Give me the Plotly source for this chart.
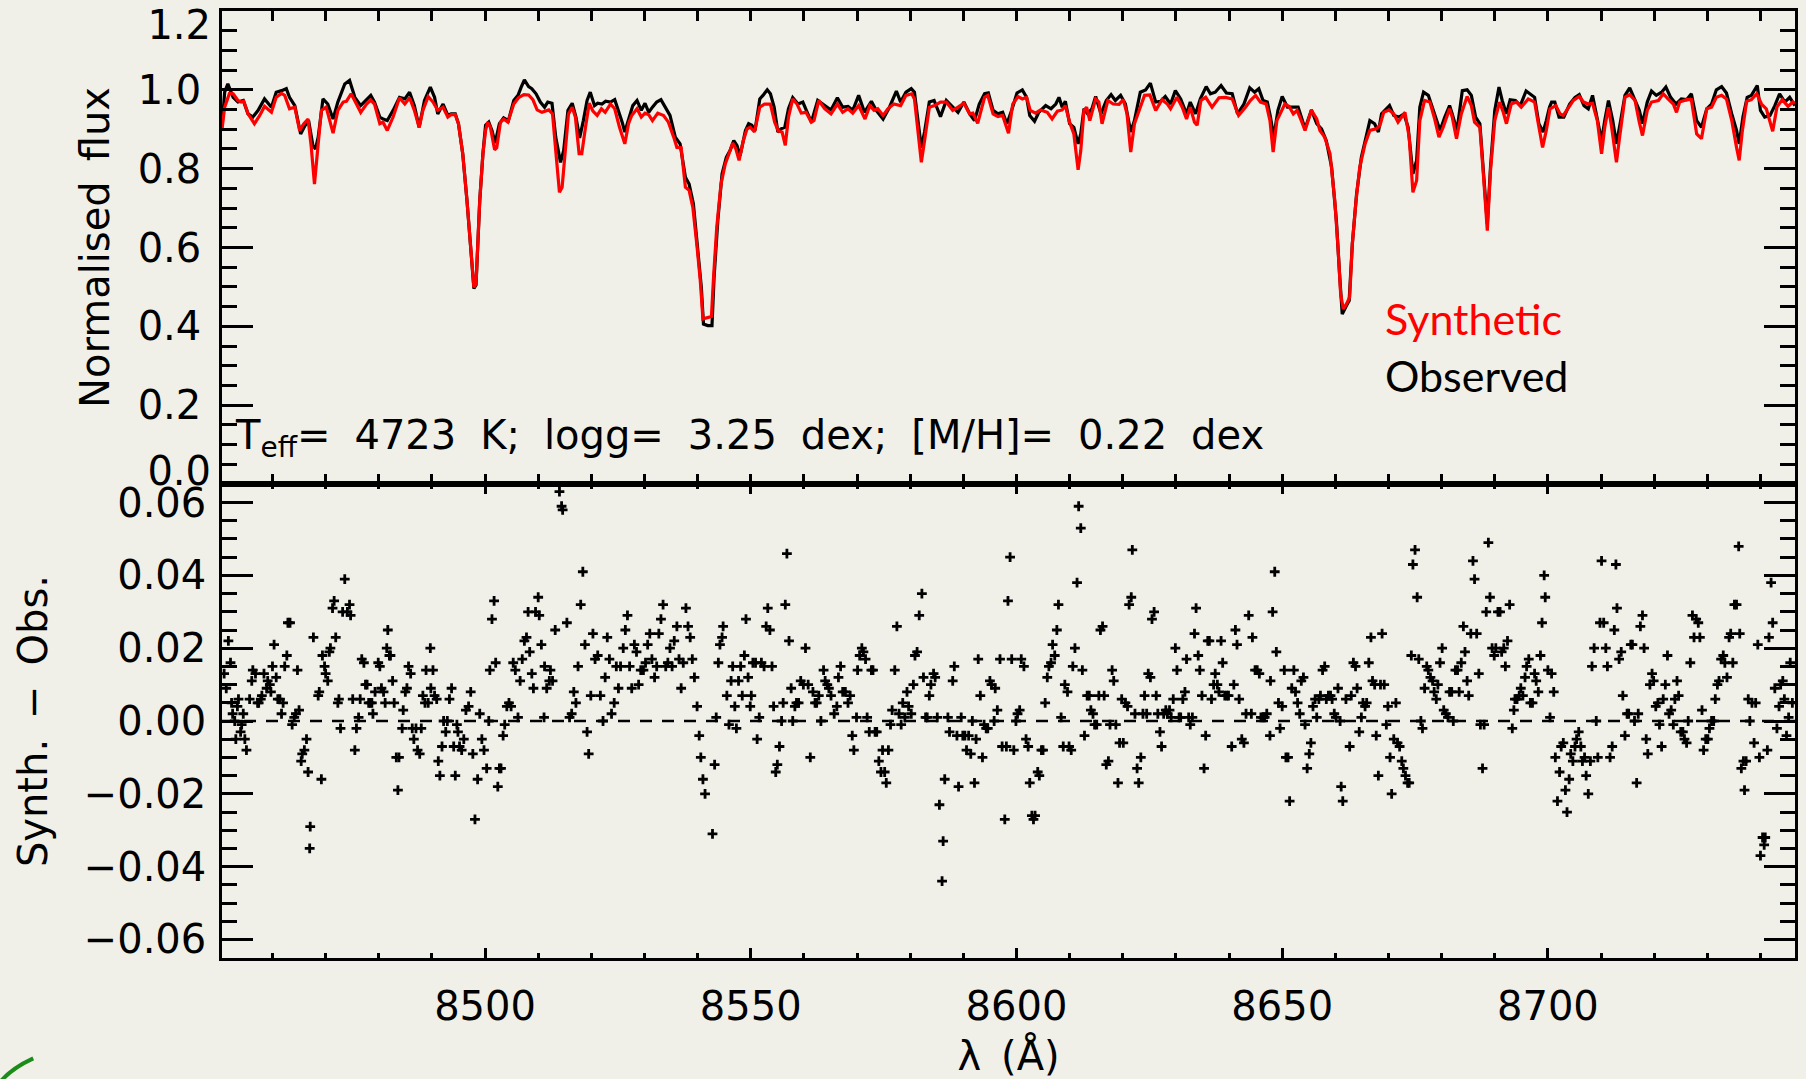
import plotly.graph_objects as go

# ---------------- data ----------------
syn_wl = [
    8450.5, 8451.0, 8451.9, 8452.6, 8453.5, 8454.1, 8454.6, 8455.4, 8456.6, 8457.6,
    8458.5, 8459.8, 8460.7, 8461.7, 8462.3, 8463.2, 8464.2, 8465.1, 8465.9, 8466.7,
    8467.3, 8467.9, 8468.6, 8469.2, 8470.1, 8471.4, 8472.3, 8473.3, 8473.9, 8474.8,
    8475.8, 8476.6, 8477.7, 8478.5, 8479.2, 8480.2, 8480.8, 8481.6, 8482.7, 8483.9,
    8484.9, 8485.8, 8486.7, 8487.6, 8488.3, 8489.3, 8490.2, 8491.1, 8492.1, 8493.0,
    8493.6, 8494.4, 8495.0, 8495.8, 8496.6, 8497.4, 8497.9, 8498.3, 8499.0, 8499.6,
    8500.1, 8500.5, 8501.0, 8501.8, 8502.2, 8502.9, 8503.5, 8504.3, 8505.4, 8506.3,
    8507.3, 8508.2, 8509.0, 8509.8, 8510.7, 8512.0, 8512.7, 8513.3, 8514.0, 8514.5,
    8515.1, 8515.7, 8516.4, 8517.0, 8517.7, 8518.2, 8518.9, 8519.6, 8520.3, 8521.1,
    8521.9, 8522.6, 8523.6, 8524.4, 8525.3, 8526.3, 8527.0, 8527.6, 8528.6, 8529.4,
    8530.1, 8530.8, 8531.5, 8532.5, 8533.6, 8534.5, 8535.5, 8536.1, 8536.9, 8537.7,
    8538.4, 8539.1, 8539.9, 8540.5, 8541.0, 8541.7, 8542.6, 8543.0, 8543.6, 8544.4,
    8545.2, 8545.9, 8546.6, 8547.2, 8547.8, 8548.6, 8549.3, 8549.9, 8550.7, 8551.7,
    8552.6, 8553.7, 8554.5, 8555.2, 8555.9, 8556.5, 8557.1, 8557.9, 8558.7, 8559.5,
    8560.4, 8561.4, 8561.9, 8562.8, 8563.9, 8565.1, 8566.3, 8567.3, 8568.3, 8569.2,
    8570.3, 8571.5, 8572.4, 8573.2, 8573.9, 8574.9, 8575.8, 8576.9, 8578.2, 8579.2,
    8580.3, 8580.8, 8581.4, 8582.1, 8582.7, 8583.6, 8584.6, 8585.7, 8586.8, 8588.0,
    8589.0, 8590.1, 8591.2, 8591.8, 8592.7, 8594.0, 8594.6, 8595.6, 8596.5, 8597.4,
    8598.5, 8599.3, 8600.3, 8601.1, 8601.9, 8602.6, 8603.6, 8604.5, 8605.8, 8606.7,
    8607.7, 8608.6, 8609.2, 8610.0, 8610.8, 8611.6, 8612.1, 8612.7, 8613.2, 8613.8,
    8614.9, 8615.5, 8616.1, 8617.2, 8618.2, 8619.3, 8620.1, 8620.8, 8621.5, 8622.2,
    8623.2, 8624.1, 8625.1, 8626.2, 8627.4, 8628.4, 8629.0, 8630.2, 8631.2, 8632.0,
    8632.7, 8633.5, 8634.0, 8634.7, 8635.6, 8636.8, 8638.1, 8639.3, 8640.6, 8641.8,
    8643.1, 8644.0, 8645.0, 8645.9, 8647.0, 8647.7, 8648.3, 8649.0, 8650.5, 8651.3,
    8652.1, 8652.8, 8653.6, 8654.3, 8655.5, 8656.5, 8657.1, 8658.0, 8659.0, 8659.9,
    8660.5, 8661.0, 8661.5, 8662.1, 8662.7, 8663.2, 8663.9, 8664.6, 8665.6, 8666.5,
    8667.7, 8668.4, 8669.1, 8670.1, 8671.0, 8671.8, 8673.1, 8673.9, 8674.6, 8675.3,
    8675.9, 8676.8, 8677.8, 8678.7, 8679.5, 8680.3, 8681.5, 8682.0, 8682.8, 8683.7,
    8684.8, 8685.6, 8686.2, 8687.2, 8687.9, 8688.6, 8689.2, 8690.0, 8690.9, 8691.6,
    8692.2, 8693.1, 8694.1, 8695.0, 8696.3, 8697.5, 8698.2, 8699.0, 8699.7, 8700.4,
    8701.5, 8702.3, 8702.9, 8703.8, 8704.8, 8705.9, 8706.7, 8707.6, 8708.4, 8709.3,
    8710.1, 8710.7, 8711.4, 8712.0, 8712.9, 8713.5, 8714.5, 8715.4, 8716.4, 8717.2,
    8717.8, 8718.7, 8719.5, 8720.8, 8721.7, 8722.6, 8723.6, 8724.2, 8724.8, 8726.1,
    8727.0, 8728.0, 8728.9, 8729.9, 8730.8, 8731.7, 8732.7, 8733.6, 8734.6, 8735.5,
    8736.0, 8736.6, 8737.4, 8738.3, 8739.3, 8740.2, 8741.1, 8742.3, 8743.1, 8744.1,
    8745.2, 8746.1, 8746.5,
]
syn_flux = [
    0.900, 0.956, 0.991, 0.990, 0.973, 0.969, 0.971, 0.939, 0.914, 0.935,
    0.958, 0.943, 0.981, 0.991, 0.986, 0.952, 0.956, 0.897, 0.914, 0.926,
    0.854, 0.761, 0.863, 0.948, 0.956, 0.890, 0.948, 0.969, 0.971, 0.990,
    0.964, 0.943, 0.964, 0.974, 0.964, 0.914, 0.918, 0.897, 0.931, 0.980,
    0.964, 0.980, 0.948, 0.905, 0.948, 0.983, 0.969, 0.948, 0.956, 0.931,
    0.937, 0.937, 0.914, 0.838, 0.719, 0.567, 0.499, 0.508, 0.719, 0.838,
    0.897, 0.918, 0.905, 0.848, 0.853, 0.918, 0.926, 0.918, 0.964, 0.980,
    0.988, 0.987, 0.975, 0.949, 0.943, 0.949, 0.939, 0.846, 0.740, 0.753,
    0.838, 0.939, 0.956, 0.931, 0.838, 0.838, 0.905, 0.966, 0.946, 0.935,
    0.952, 0.943, 0.964, 0.952, 0.905, 0.863, 0.914, 0.935, 0.952, 0.931,
    0.941, 0.937, 0.922, 0.941, 0.935, 0.918, 0.880, 0.854, 0.853, 0.753,
    0.745, 0.702, 0.601, 0.516, 0.419, 0.421, 0.425, 0.525, 0.651, 0.761,
    0.812, 0.838, 0.865, 0.850, 0.821, 0.871, 0.901, 0.905, 0.893, 0.956,
    0.964, 0.964, 0.918, 0.895, 0.893, 0.859, 0.931, 0.977, 0.964, 0.941,
    0.943, 0.918, 0.922, 0.973, 0.952, 0.939, 0.964, 0.943, 0.952, 0.941,
    0.960, 0.926, 0.960, 0.948, 0.952, 0.935, 0.952, 0.964, 0.960, 0.986,
    0.990, 0.977, 0.905, 0.816, 0.871, 0.956, 0.960, 0.969, 0.969, 0.948,
    0.956, 0.966, 0.939, 0.941, 0.915, 0.981, 0.986, 0.939, 0.932, 0.935,
    0.890, 0.964, 0.983, 0.977, 0.981, 0.948, 0.941, 0.949, 0.943, 0.926,
    0.946, 0.949, 0.960, 0.918, 0.888, 0.797, 0.846, 0.948, 0.956, 0.922,
    0.977, 0.969, 0.914, 0.973, 0.964, 0.963, 0.975, 0.939, 0.842, 0.914,
    0.952, 0.986, 0.987, 0.948, 0.975, 0.964, 0.952, 0.981, 0.956, 0.926,
    0.956, 0.918, 0.910, 0.973, 0.981, 0.956, 0.980, 0.981, 0.977, 0.935,
    0.956, 0.973, 0.986, 0.969, 0.964, 0.922, 0.842, 0.922, 0.964, 0.958,
    0.939, 0.948, 0.922, 0.897, 0.948, 0.926, 0.897, 0.880, 0.838, 0.719,
    0.601, 0.482, 0.444, 0.457, 0.474, 0.609, 0.719, 0.804, 0.863, 0.897,
    0.901, 0.910, 0.943, 0.949, 0.939, 0.918, 0.943, 0.880, 0.740, 0.770,
    0.922, 0.973, 0.969, 0.926, 0.880, 0.905, 0.952, 0.931, 0.876, 0.939,
    0.983, 0.960, 0.918, 0.905, 0.778, 0.643, 0.795, 0.922, 0.969, 0.943,
    0.914, 0.964, 0.969, 0.956, 0.977, 0.969, 0.914, 0.854, 0.897, 0.952,
    0.960, 0.939, 0.935, 0.952, 0.973, 0.983, 0.969, 0.964, 0.966, 0.922,
    0.838, 0.905, 0.956, 0.905, 0.816, 0.880, 0.981, 0.988, 0.973, 0.918,
    0.884, 0.948, 0.969, 0.973, 0.990, 0.977, 0.964, 0.943, 0.969, 0.975,
    0.975, 0.888, 0.876, 0.952, 0.956, 0.981, 0.986, 0.977, 0.922, 0.854,
    0.821, 0.897, 0.971, 0.975, 0.990, 0.964, 0.952, 0.895, 0.956, 0.975,
    0.958, 0.969, 0.966,
]

obs_wl = [
    8450.5, 8451.0, 8451.6, 8452.6, 8453.5, 8454.5, 8455.4, 8456.3, 8457.3, 8458.5,
    8459.8, 8460.7, 8461.7, 8462.6, 8463.2, 8464.2, 8465.3, 8466.1, 8466.8, 8467.6,
    8468.1, 8468.6, 8469.5, 8470.4, 8471.4, 8472.3, 8473.6, 8474.5, 8475.5, 8476.6,
    8477.7, 8478.5, 8479.2, 8480.2, 8480.8, 8481.6, 8482.7, 8483.9, 8484.9, 8485.8,
    8486.7, 8487.6, 8488.6, 8489.7, 8490.5, 8491.1, 8492.1, 8493.0, 8493.6, 8494.4,
    8495.0, 8495.8, 8496.6, 8497.4, 8497.9, 8498.3, 8499.0, 8499.6, 8500.1, 8500.7,
    8501.3, 8501.9, 8502.7, 8503.5, 8504.4, 8505.4, 8506.2, 8506.8, 8507.4, 8508.2,
    8508.8, 8509.6, 8510.4, 8511.2, 8511.8, 8512.6, 8513.3, 8514.2, 8514.8, 8515.6,
    8516.4, 8517.1, 8517.8, 8518.5, 8519.2, 8519.8, 8520.6, 8521.2, 8522.0, 8522.7,
    8523.6, 8524.4, 8525.1, 8525.8, 8526.3, 8527.0, 8527.8, 8528.6, 8529.4, 8530.1,
    8530.8, 8531.5, 8532.3, 8533.1, 8533.9, 8534.8, 8535.8, 8536.7, 8537.7, 8538.4,
    8539.2, 8540.0, 8540.7, 8541.1, 8541.9, 8542.7, 8543.1, 8543.8, 8544.6, 8545.4,
    8546.1, 8546.8, 8547.4, 8548.0, 8549.0, 8549.6, 8550.2, 8550.8, 8551.7, 8552.3,
    8553.1, 8553.7, 8554.4, 8555.1, 8555.7, 8556.4, 8557.1, 8557.9, 8558.9, 8559.8,
    8560.4, 8561.4, 8562.6, 8563.9, 8565.1, 8566.3, 8567.3, 8568.3, 8569.2, 8570.3,
    8571.4, 8572.7, 8573.6, 8574.9, 8576.1, 8577.4, 8578.2, 8579.2, 8580.2, 8580.8,
    8581.4, 8582.1, 8582.7, 8583.6, 8584.5, 8585.7, 8586.8, 8587.8, 8589.0, 8590.1,
    8591.2, 8592.1, 8593.0, 8594.0, 8594.7, 8595.6, 8596.5, 8597.4, 8598.2, 8599.1,
    8600.1, 8601.1, 8601.9, 8602.5, 8603.4, 8604.2, 8605.5, 8606.5, 8607.4, 8608.0,
    8608.6, 8609.2, 8610.0, 8610.8, 8611.6, 8612.1, 8612.7, 8613.4, 8614.2, 8614.9,
    8615.9, 8616.9, 8617.8, 8618.6, 8619.6, 8620.5, 8621.5, 8622.2, 8623.3, 8624.3,
    8625.2, 8626.2, 8627.1, 8628.0, 8629.0, 8629.9, 8630.9, 8632.0, 8632.7, 8633.7,
    8634.6, 8635.7, 8636.5, 8637.4, 8638.5, 8639.5, 8640.6, 8641.6, 8642.8, 8643.9,
    8644.8, 8645.6, 8646.4, 8647.2, 8647.8, 8648.4, 8649.2, 8650.0, 8651.0, 8652.0,
    8653.0, 8653.6, 8654.3, 8655.5, 8656.5, 8657.4, 8658.3, 8659.3, 8660.2, 8660.8,
    8661.3, 8662.1, 8662.6, 8663.2, 8664.0, 8664.9, 8665.7, 8666.5, 8667.4, 8668.1,
    8668.7, 8669.6, 8670.2, 8671.0, 8672.0, 8672.9, 8673.7, 8674.6, 8675.3, 8675.9,
    8676.6, 8677.5, 8678.4, 8679.7, 8680.6, 8681.5, 8682.0, 8682.9, 8683.9, 8684.8,
    8685.6, 8686.4, 8687.2, 8687.9, 8688.6, 8689.2, 8690.0, 8690.8, 8691.4, 8692.2,
    8692.9, 8693.9, 8694.8, 8695.9, 8696.7, 8697.5, 8698.3, 8699.1, 8699.7, 8700.3,
    8700.7, 8701.3, 8702.1, 8703.0, 8704.1, 8705.1, 8705.9, 8706.8, 8707.6, 8708.4,
    8709.3, 8710.1, 8710.7, 8711.4, 8712.2, 8712.9, 8713.7, 8714.5, 8715.4, 8716.2,
    8717.2, 8717.8, 8718.7, 8719.5, 8720.4, 8721.4, 8722.2, 8723.1, 8724.1, 8725.1,
    8726.1, 8727.0, 8728.0, 8728.9, 8729.9, 8730.8, 8731.7, 8732.7, 8733.6, 8734.6,
    8735.5, 8736.0, 8736.7, 8737.5, 8738.3, 8739.4, 8740.0, 8740.8, 8741.8, 8742.7,
    8743.6, 8744.6, 8745.5, 8746.5,
]
obs_flux = [
    0.905, 0.994, 1.015, 0.981, 0.969, 0.973, 0.939, 0.931, 0.948, 0.977,
    0.956, 0.994, 0.998, 1.003, 0.981, 0.960, 0.888, 0.909, 0.922, 0.859,
    0.850, 0.880, 0.977, 0.964, 0.926, 0.969, 1.015, 1.024, 0.981, 0.960,
    0.975, 0.986, 0.969, 0.931, 0.926, 0.922, 0.948, 0.981, 0.977, 0.994,
    0.960, 0.905, 0.973, 1.007, 0.981, 0.939, 0.964, 0.935, 0.939, 0.939,
    0.914, 0.838, 0.719, 0.567, 0.496, 0.505, 0.719, 0.838, 0.910, 0.918,
    0.897, 0.865, 0.914, 0.929, 0.922, 0.973, 0.986, 1.007, 1.025, 1.008,
    1.003, 0.990, 0.969, 0.956, 0.969, 0.966, 0.880, 0.816, 0.846, 0.948,
    0.966, 0.931, 0.878, 0.922, 0.973, 0.994, 0.960, 0.966, 0.964, 0.971,
    0.969, 0.975, 0.948, 0.918, 0.893, 0.922, 0.960, 0.973, 0.948, 0.966,
    0.943, 0.956, 0.969, 0.975, 0.956, 0.935, 0.880, 0.863, 0.778, 0.761,
    0.711, 0.601, 0.499, 0.406, 0.402, 0.402, 0.525, 0.668, 0.787, 0.829,
    0.846, 0.871, 0.859, 0.833, 0.897, 0.914, 0.910, 0.897, 0.977, 0.986,
    1.000, 0.990, 0.956, 0.893, 0.901, 0.905, 0.952, 0.980, 0.964, 0.969,
    0.948, 0.918, 0.973, 0.960, 0.949, 0.980, 0.956, 0.958, 0.948, 0.986,
    0.943, 0.971, 0.948, 0.926, 0.956, 0.997, 0.969, 0.994, 1.003, 0.994,
    0.922, 0.853, 0.893, 0.969, 0.973, 0.932, 0.973, 0.960, 0.943, 0.969,
    0.939, 0.922, 0.964, 0.990, 0.992, 0.948, 0.939, 0.943, 0.914, 0.948,
    0.992, 1.000, 0.981, 0.935, 0.920, 0.943, 0.960, 0.952, 0.964, 0.981,
    0.956, 0.971, 0.914, 0.905, 0.863, 0.888, 0.952, 0.939, 0.952, 0.983,
    0.939, 0.973, 0.988, 0.973, 0.986, 0.964, 0.893, 0.922, 0.994, 1.000,
    1.017, 0.969, 0.971, 0.983, 0.964, 0.998, 0.977, 0.939, 0.969, 0.939,
    0.977, 1.008, 0.990, 0.994, 1.011, 0.992, 0.990, 0.939, 0.964, 1.005,
    0.994, 1.003, 0.973, 0.969, 0.931, 0.880, 0.948, 0.983, 0.956, 0.956,
    0.956, 0.931, 0.901, 0.949, 0.914, 0.901, 0.871, 0.804, 0.668, 0.533,
    0.431, 0.453, 0.465, 0.609, 0.736, 0.829, 0.880, 0.922, 0.914, 0.893,
    0.939, 0.952, 0.960, 0.935, 0.931, 0.939, 0.905, 0.787, 0.821, 0.956,
    0.994, 0.986, 0.948, 0.897, 0.931, 0.960, 0.939, 0.897, 0.998, 1.000,
    0.986, 0.931, 0.914, 0.795, 0.660, 0.804, 0.948, 1.007, 0.973, 0.939,
    0.975, 0.973, 0.960, 0.997, 0.990, 0.981, 0.914, 0.893, 0.922, 0.956,
    0.969, 0.969, 0.931, 0.931, 0.964, 0.981, 0.988, 0.960, 0.952, 0.986,
    0.926, 0.871, 0.922, 0.973, 0.922, 0.863, 0.922, 0.986, 1.005, 0.981,
    0.948, 0.914, 0.969, 0.997, 0.986, 0.994, 1.007, 0.981, 0.964, 0.977,
    0.975, 0.990, 0.922, 0.905, 0.952, 0.964, 1.000, 1.008, 0.992, 0.939,
    0.897, 0.863, 0.931, 0.981, 0.986, 1.011, 0.948, 0.931, 0.935, 0.960,
    0.990, 0.969, 0.981, 0.960,
]

res_wl = [
    8450.9, 8451.3, 8451.7, 8452.1, 8452.3, 8452.5, 8452.9, 8453.1, 8453.4, 8453.6,
    8454.0, 8454.2, 8454.5, 8454.8, 8455.1, 8455.7, 8456.1, 8456.3, 8456.8, 8457.2,
    8457.4, 8457.8, 8458.0, 8458.4, 8458.9, 8459.1, 8459.5, 8459.7, 8460.0, 8460.3,
    8460.7, 8461.0, 8461.4, 8461.7, 8462.0, 8462.3, 8462.7, 8462.9, 8463.3, 8463.7,
    8464.1, 8464.4, 8464.7, 8465.0, 8465.4, 8465.6, 8466.0, 8466.4, 8466.7, 8467.1,
    8467.0, 8467.7, 8468.6, 8468.8, 8469.2, 8469.4, 8469.8, 8470.0, 8470.4, 8470.7,
    8470.9, 8471.3, 8471.6, 8471.9, 8472.3, 8472.5, 8472.8, 8473.2, 8473.6, 8474.1,
    8474.5, 8474.7, 8475.1, 8475.5, 8475.8, 8476.2, 8476.5, 8476.8, 8477.2, 8477.5,
    8477.8, 8478.1, 8478.4, 8478.7, 8478.9, 8479.3, 8479.9, 8480.2, 8480.5, 8480.9,
    8481.2, 8481.5, 8481.7, 8482.0, 8482.2, 8482.6, 8482.9, 8483.3, 8483.6, 8483.8,
    8484.4, 8484.6, 8485.0, 8485.3, 8485.6, 8486.0, 8486.3, 8486.6, 8487.0, 8487.3,
    8487.7, 8488.0, 8488.3, 8488.7, 8488.9, 8489.3, 8489.7, 8489.8, 8490.2, 8490.5,
    8490.9, 8491.2, 8491.5, 8491.9, 8492.2, 8492.6, 8492.9, 8493.3, 8493.7, 8494.1,
    8494.4, 8494.7, 8494.9, 8495.2, 8495.6, 8496.0, 8496.4, 8496.9, 8497.3, 8497.7,
    8498.1, 8498.6, 8499.0, 8499.4, 8499.8, 8500.3, 8500.7, 8500.9, 8501.3, 8501.7,
    8502.0, 8502.4, 8502.7, 8503.0, 8503.4, 8503.7, 8504.1, 8504.5, 8504.9, 8505.3,
    8505.7, 8506.2, 8506.6, 8507.0, 8507.4, 8507.8, 8508.1, 8508.4, 8508.8, 8509.1,
    8509.5, 8510.0, 8510.2, 8510.6, 8511.1, 8511.2, 8511.6, 8512.1, 8512.3, 8512.7,
    8513.2, 8514.0, 8514.4, 8514.6, 8515.4, 8515.9, 8516.3, 8516.7, 8517.1, 8517.5,
    8518.0, 8518.4, 8518.8, 8519.2, 8519.5, 8519.9, 8520.3, 8520.7, 8521.2, 8521.7,
    8522.2, 8522.6, 8523.0, 8523.4, 8523.8, 8524.3, 8524.7, 8525.1, 8525.5, 8526.0,
    8526.4, 8526.8, 8527.2, 8527.6, 8528.1, 8528.5, 8528.9, 8529.3, 8529.8, 8530.2,
    8530.6, 8531.0, 8531.4, 8531.9, 8532.3, 8532.7, 8533.1, 8533.5, 8534.0, 8534.4,
    8534.8, 8535.2, 8535.6, 8536.1, 8536.5, 8536.9, 8537.3, 8537.8, 8538.2, 8538.6,
    8539.0, 8539.4, 8539.9, 8540.3, 8540.6, 8541.0, 8541.4, 8542.8, 8543.2, 8543.5,
    8543.9, 8544.2, 8544.6, 8544.8, 8545.5, 8545.9, 8546.3, 8546.6, 8547.0, 8547.3,
    8547.7, 8548.1, 8548.4, 8548.8, 8549.1, 8549.5, 8549.9, 8550.1, 8550.4, 8550.9,
    8551.2, 8551.6, 8552.0, 8552.5, 8552.9, 8553.2, 8553.6, 8554.0, 8554.3, 8554.7,
    8555.0, 8555.4, 8555.8, 8556.1, 8556.5, 8556.8, 8557.2, 8557.6, 8557.9, 8558.3,
    8558.6, 8559.0, 8559.4, 8559.9, 8560.3, 8560.8, 8561.2, 8561.7, 8562.1, 8562.4,
    8562.8, 8563.2, 8563.7, 8564.0, 8564.4, 8564.7, 8565.1, 8565.7, 8566.2, 8566.5,
    8566.9, 8567.3, 8567.8, 8568.3, 8568.7, 8569.1, 8569.4, 8569.9, 8570.1, 8570.5,
    8570.9, 8571.2, 8571.6, 8571.9, 8572.3, 8572.7, 8573.0, 8573.4, 8573.7, 8574.1,
    8574.5, 8574.8, 8575.2, 8575.5, 8575.9, 8576.3, 8576.6, 8577.1, 8577.5, 8577.9,
    8578.3, 8578.6, 8579.0, 8579.4, 8579.7, 8580.2, 8580.6, 8580.9, 8581.3, 8581.7,
    8582.2, 8582.5, 8582.9, 8583.2, 8583.6, 8583.9, 8584.4, 8584.7, 8585.1, 8585.5,
    8586.0, 8586.2, 8586.5, 8587.1, 8587.4, 8588.0, 8588.3, 8588.8, 8589.1, 8589.6,
    8589.9, 8590.3, 8590.6, 8591.0, 8591.4, 8591.7, 8592.1, 8592.4, 8592.8, 8593.2,
    8593.6, 8593.9, 8594.3, 8594.6, 8595.0, 8595.3, 8595.8, 8596.0, 8596.4, 8596.9,
    8597.3, 8597.8, 8598.1, 8598.4, 8598.8, 8599.1, 8599.5, 8599.9, 8600.2, 8600.6,
    8600.9, 8601.4, 8601.8, 8602.2, 8602.5, 8602.9, 8603.2, 8603.5, 8604.0, 8604.3,
    8604.7, 8605.0, 8605.4, 8605.8, 8606.1, 8606.5, 8606.8, 8607.2, 8607.6, 8607.9,
    8608.4, 8608.8, 8609.1, 8609.6, 8609.9, 8610.3, 8610.6, 8611.0, 8611.4, 8611.7,
    8612.1, 8612.4, 8612.8, 8613.3, 8613.7, 8614.0, 8614.4, 8614.7, 8615.1, 8615.5,
    8615.8, 8616.2, 8616.5, 8616.9, 8617.3, 8617.6, 8618.0, 8618.3, 8618.7, 8619.1,
    8619.4, 8619.8, 8620.1, 8620.5, 8620.9, 8621.2, 8621.6, 8621.8, 8622.3, 8622.7,
    8623.0, 8623.4, 8623.8, 8624.1, 8624.5, 8624.8, 8625.2, 8625.5, 8625.9, 8626.3,
    8626.6, 8627.0, 8627.3, 8627.7, 8628.1, 8628.4, 8628.8, 8629.1, 8629.5, 8629.9,
    8630.2, 8630.6, 8630.9, 8631.3, 8631.7, 8632.0, 8632.4, 8632.7, 8633.1, 8633.5,
    8633.8, 8634.2, 8634.5, 8634.9, 8635.3, 8635.6, 8636.0, 8636.3, 8636.7, 8637.1,
    8637.4, 8637.8, 8638.1, 8638.5, 8638.8, 8639.2, 8639.6, 8639.9, 8640.5, 8640.9,
    8641.2, 8641.5, 8641.9, 8642.4, 8642.8, 8643.2, 8643.7, 8644.2, 8644.4, 8644.9,
    8645.3, 8645.7, 8646.0, 8646.4, 8646.7, 8647.1, 8647.7, 8647.8, 8648.2, 8648.6,
    8648.9, 8649.3, 8649.6, 8650.0, 8650.4, 8650.7, 8651.1, 8651.4, 8651.8, 8652.2,
    8652.5, 8652.9, 8653.3, 8653.6, 8654.0, 8654.3, 8654.7, 8655.1, 8655.4, 8655.8,
    8656.2, 8656.5, 8656.9, 8657.2, 8657.6, 8658.0, 8658.3, 8658.7, 8659.1, 8659.4,
    8659.8, 8660.1, 8660.5, 8660.9, 8661.1, 8661.4, 8662.0, 8662.7, 8663.0, 8663.4,
    8663.8, 8664.1, 8664.5, 8664.9, 8665.2, 8665.6, 8665.9, 8666.3, 8666.7, 8667.0,
    8667.4, 8667.7, 8668.1, 8668.5, 8668.8, 8669.2, 8669.6, 8669.9, 8670.3, 8670.6,
    8671.0, 8671.4, 8671.7, 8672.1, 8672.5, 8672.8, 8673.2, 8673.6, 8673.9, 8674.3,
    8674.6, 8675.0, 8675.4, 8675.7, 8676.1, 8676.4, 8676.8, 8677.2, 8677.5, 8677.9,
    8678.3, 8678.6, 8679.0, 8679.3, 8679.7, 8680.1, 8680.4, 8680.8, 8681.2, 8681.5,
    8681.9, 8682.2, 8682.6, 8683.0, 8683.3, 8683.7, 8684.1, 8684.4, 8684.8, 8685.1,
    8685.5, 8685.9, 8686.2, 8686.6, 8687.0, 8687.3, 8687.7, 8688.0, 8688.4, 8688.8,
    8689.1, 8689.5, 8689.9, 8690.2, 8690.6, 8691.0, 8691.3, 8691.7, 8692.0, 8692.4,
    8692.8, 8693.3, 8693.6, 8693.8, 8694.2, 8694.6, 8694.9, 8695.3, 8695.7, 8696.0,
    8696.4, 8696.7, 8697.1, 8697.5, 8697.8, 8698.2, 8698.6, 8698.9, 8699.3, 8699.5,
    8700.0, 8700.4, 8700.7, 8701.1, 8701.4, 8701.8, 8702.2, 8702.5, 8702.9, 8703.3,
    8703.6, 8704.0, 8704.3, 8704.7, 8705.1, 8705.4, 8705.8, 8706.2, 8706.5, 8706.9,
    8707.2, 8707.6, 8708.0, 8708.3, 8708.7, 8709.1, 8709.4, 8709.8, 8710.1, 8710.5,
    8710.9, 8711.2, 8711.7, 8712.1, 8712.5, 8712.8, 8713.0, 8713.4, 8713.8, 8714.1,
    8714.5, 8714.9, 8715.2, 8715.6, 8715.9, 8716.3, 8716.7, 8717.0, 8717.4, 8717.8,
    8718.1, 8718.5, 8718.8, 8719.2, 8719.6, 8719.9, 8720.3, 8720.7, 8721.0, 8721.4,
    8721.7, 8722.1, 8722.5, 8722.8, 8723.2, 8723.6, 8723.9, 8724.3, 8724.6, 8725.0,
    8725.4, 8725.7, 8726.1, 8726.4, 8726.8, 8727.2, 8727.5, 8727.9, 8728.3, 8728.6,
    8729.0, 8729.3, 8729.7, 8730.1, 8730.4, 8730.8, 8731.2, 8731.5, 8731.9, 8732.2,
    8732.6, 8733.0, 8733.3, 8733.7, 8734.1, 8734.4, 8734.8, 8735.1, 8735.5, 8735.9,
    8736.1, 8736.4, 8736.8, 8737.0, 8737.3, 8737.7, 8738.0, 8738.4, 8738.8, 8739.1,
    8739.5, 8739.8, 8740.0, 8740.4, 8740.7, 8740.9, 8741.3, 8741.6, 8742.0, 8742.3,
    8742.7, 8743.1, 8743.5, 8743.8, 8744.2, 8744.5, 8744.9, 8745.3, 8745.6, 8746.0,
]
res_val = [
    0.013, 0.009, 0.022, 0.016, 0.005, 0.002, 0.000, -0.005, 0.004, 0.006,
    -0.003, -0.001, 0.002, -0.005, -0.008, 0.006, 0.011, 0.014, 0.013, 0.005,
    0.005, 0.006, 0.007, 0.013, 0.009, 0.011, 0.010, 0.008, 0.015, 0.021,
    0.012, 0.006, 0.006, 0.002, 0.005, 0.015, 0.018, 0.027, 0.027, -0.001,
    0.001, 0.002, 0.014, 0.003, -0.011, -0.009, -0.008, -0.005, -0.014, -0.029,
    -0.035, 0.023, 0.007, 0.008, -0.016, 0.018, 0.015, 0.013, 0.011, 0.019,
    0.020, 0.031, 0.033, 0.023, 0.005, 0.006, -0.002, 0.030, 0.039, 0.030,
    0.032, 0.029, 0.006, -0.008, -0.002, 0.001, 0.006, 0.017, 0.016, 0.010,
    0.010, 0.005, 0.005, 0.005, 0.002, 0.008, 0.016, 0.015, 0.009, 0.008,
    0.005, 0.020, 0.025, 0.018, 0.018, 0.011, 0.005, -0.010, -0.019, -0.010,
    -0.002, 0.003, 0.008, 0.009, 0.015, 0.013, -0.002, -0.005, -0.002, -0.008,
    -0.009, -0.002, 0.007, 0.005, 0.014, 0.005, 0.020, 0.009, 0.014, 0.007,
    0.006, -0.011, -0.015, -0.007, 0.000, -0.003, 0.000, 0.006, 0.009, -0.007,
    -0.015, -0.001, -0.003, -0.007, -0.008, -0.005, 0.003, 0.004, 0.008, -0.009,
    -0.027, -0.016, 0.002, -0.005, -0.008, -0.013, 0.000, 0.014, 0.028, 0.033,
    0.016, -0.018, -0.013, -0.013, -0.004, -0.001, 0.004, 0.005, 0.004, 0.016,
    0.014, 0.001, 0.011, 0.017, 0.022, 0.023, 0.030, 0.019, 0.013, 0.009,
    0.030, 0.034, 0.029, 0.021, 0.001, 0.015, 0.009, 0.011, 0.014, 0.011,
    0.025, 0.063, 0.059, 0.058, 0.027, 0.001, 0.002, 0.008, 0.005, 0.015,
    0.032, 0.041, 0.021, -0.003, -0.009, 0.007, 0.024, 0.017, 0.018, 0.007,
    0.000, 0.012, 0.023, 0.017, 0.002, 0.005, 0.015, 0.009, 0.015, 0.020,
    0.025, 0.029, 0.015, 0.009, 0.021, 0.019, 0.010, 0.014, 0.014, 0.016,
    0.021, 0.024, 0.017, 0.012, 0.015, 0.024, 0.028, 0.032, 0.015, 0.016,
    0.020, 0.015, 0.022, 0.026, 0.017, 0.009, 0.016, 0.031, 0.026, 0.023,
    0.017, 0.012, 0.004, -0.004, -0.010, -0.016, -0.020, -0.031, -0.012, 0.001,
    0.016, 0.021, 0.023, 0.026, 0.007, -0.001, 0.011, 0.015, 0.004, -0.002,
    0.011, 0.015, 0.007, 0.018, 0.028, 0.012, 0.004, 0.007, 0.016, 0.016,
    -0.005, 0.001, 0.016, 0.015, 0.026, 0.031, 0.025, 0.015, 0.004, -0.014,
    -0.012, -0.007, 0.000, 0.005, 0.032, 0.046, 0.022, 0.009, 0.000, 0.004,
    0.005, 0.005, 0.011, 0.010, 0.020, 0.010, -0.010, 0.008, 0.005, 0.005,
    0.007, 0.000, 0.014, 0.011, 0.010, 0.009, 0.007, 0.002, 0.004, 0.012,
    0.015, 0.008, 0.008, 0.005, 0.007, -0.004, -0.008, 0.001, 0.014, 0.018,
    0.020, 0.019, 0.017, 0.001, -0.003, 0.014, 0.014, -0.003, -0.003, -0.011,
    -0.014, -0.008, -0.014, -0.017, -0.008, -0.001, 0.003, 0.014, 0.026, 0.002,
    -0.001, 0.005, 0.001, 0.008, 0.004, 0.002, 0.010, 0.018, 0.019, 0.029,
    0.035, 0.012, 0.001, 0.001, 0.007, 0.010, 0.013, 0.012, 0.001, -0.023,
    -0.044, -0.033, -0.016, 0.001, -0.003, 0.011, 0.015, -0.004, -0.018, 0.001,
    -0.004, -0.004, -0.008, -0.004, -0.009, 0.000, -0.017, -0.005, 0.017, 0.007,
    -0.010, -0.001, -0.002, -0.002, 0.011, 0.010, 0.000, 0.009, 0.003, 0.017,
    -0.007, -0.027, -0.007, 0.033, 0.045, 0.017, -0.008, 0.000, 0.002, 0.003,
    0.017, 0.015, -0.005, -0.007, -0.017, -0.026, -0.027, -0.026, -0.014, -0.015,
    -0.008, -0.008, 0.005, 0.012, 0.015, 0.016, 0.021, 0.018, 0.025, 0.032,
    0.001, -0.007, 0.010, 0.008, -0.007, -0.008, 0.015, 0.020, 0.038, 0.059,
    0.053, 0.014, -0.004, 0.007, 0.007, 0.003, 0.002, -0.001, -0.001, 0.007,
    0.025, 0.026, 0.007, -0.012, -0.011, -0.001, 0.014, 0.011, -0.001, -0.017,
    -0.006, 0.006, -0.006, 0.005, 0.004, 0.032, 0.034, 0.047, 0.002, -0.013,
    -0.017, -0.010, 0.002, 0.007, 0.002, 0.013, 0.012, 0.028, 0.030, 0.007,
    0.002, -0.003, -0.007, 0.002, 0.003, 0.002, 0.003, 0.001, 0.006, 0.020,
    0.014, 0.001, 0.001, 0.006, 0.008, 0.017, 0.001, -0.001, 0.001, 0.024,
    0.031, 0.018, 0.014, 0.007, -0.013, -0.004, 0.022, 0.022, 0.006, 0.010,
    0.013, 0.010, 0.008, 0.022, 0.016, 0.007, 0.007, 0.007, -0.007, 0.010,
    0.025, 0.021, 0.006, -0.005, -0.006, 0.002, 0.029, 0.002, 0.023, 0.014,
    0.014, 0.013, 0.001, 0.001, 0.001, 0.002, -0.004, 0.011, 0.030, 0.041,
    0.019, 0.005, -0.002, 0.004, 0.014, -0.010, -0.010, -0.022, 0.009, 0.014,
    0.008, 0.005, 0.002, 0.011, 0.012, -0.001, -0.013, -0.009, -0.006, 0.004,
    0.006, 0.001, 0.006, 0.007, 0.014, 0.015, 0.006, 0.007, 0.007, 0.006,
    0.002, 0.001, 0.009, 0.000, -0.018, -0.022, 0.006, -0.007, 0.007, 0.016,
    0.015, 0.009, -0.003, 0.001, 0.005, 0.004, 0.005, 0.016, 0.023, 0.011,
    0.010, -0.004, -0.015, 0.010, 0.024, 0.010, -0.001, 0.004, -0.010, -0.020,
    -0.005, 0.005, -0.006, -0.007, -0.011, -0.013, -0.015, -0.017, -0.017, 0.018,
    0.043, 0.047, 0.034, 0.017, 0.000, -0.002, 0.009, 0.015, 0.014, 0.012,
    0.011, 0.008, 0.006, 0.010, 0.016, 0.020, 0.003, 0.002, 0.001, 0.008,
    0.008, 0.000, 0.014, 0.014, 0.008, 0.016, 0.026, 0.019, 0.011, 0.007,
    0.024, 0.044, 0.039, 0.024, 0.013, -0.001, -0.013, -0.001, 0.030, 0.049,
    0.034, 0.020, 0.018, 0.020, 0.030, 0.030, 0.019, 0.020, 0.015, 0.022,
    0.032, -0.002, 0.003, 0.006, 0.006, 0.007, 0.009, 0.007, 0.012, 0.015,
    0.017, 0.005, 0.005, 0.013, 0.011, 0.008, 0.018, 0.027, 0.040, 0.034,
    0.014, 0.001, 0.013, 0.008, -0.010, -0.022, -0.014, -0.007, -0.006, -0.019,
    -0.025, -0.016, -0.009, -0.011, -0.007, -0.005, -0.003, -0.007, -0.011, -0.010,
    -0.015, -0.020, -0.011, 0.015, 0.020, 0.000, -0.010, 0.027, 0.044, 0.027,
    0.020, 0.015, -0.010, -0.007, 0.025, 0.043, 0.031, 0.017, 0.019, 0.007,
    -0.004, 0.002, 0.002, 0.021, 0.021, 0.000, -0.017, 0.002, 0.026, 0.029,
    0.020, -0.005, -0.009, 0.010, 0.013, 0.011, 0.004, 0.005, -0.001, -0.007,
    0.006, 0.010, 0.018, 0.002, 0.003, -0.001, 0.006, 0.011, 0.007, -0.003,
    -0.003, -0.005, -0.006, 0.000, 0.016, 0.029, 0.023, 0.028, 0.027, 0.023,
    0.003, -0.008, -0.005, -0.005, -0.002, 0.000, 0.000, 0.006, 0.010, 0.011,
    0.017, 0.018, 0.016, 0.012, 0.023, 0.024, 0.016, 0.032, 0.032, 0.048,
    0.024, -0.013, -0.011, -0.019, -0.011, 0.006, 0.000, 0.005, -0.006, 0.005,
    0.021, -0.010, -0.037, -0.032, -0.034, -0.032, -0.008, 0.023, 0.038, 0.027,
    0.009, -0.002, 0.004, 0.010, 0.011, 0.006, -0.004, 0.001, 0.016, 0.005,
]

x_ticks = [8500, 8550, 8600, 8650, 8700]
flux_ticks = [0.2, 0.4, 0.6, 0.8, 1.0]
resid_ticks = [-0.06, -0.04, -0.02, 0.00, 0.02, 0.04, 0.06]
# the two end labels of the flux axis sit just inside the frame in the original
flux_top_label = ("1.2", 1.164)
flux_bottom_label = ("0.0", 0.034)

assert len(syn_wl) == len(syn_flux)
assert len(obs_wl) == len(obs_flux)
assert len(res_wl) == len(res_val)

# ---------------- styling ----------------
BG = "#f0f0e8"
FONT = "DejaVu Sans"
AX_W = 2.5
tickfont = dict(family=FONT, size=40, color="black")
titlefont = dict(family=FONT, size=40, color="black")

fig = go.Figure()
fig.add_trace(go.Scatter(x=obs_wl, y=obs_flux, mode="lines",
                         line=dict(color="black", width=3.2),
                         xaxis="x2", yaxis="y2", hoverinfo="skip", showlegend=False))
fig.add_trace(go.Scatter(x=syn_wl, y=syn_flux, mode="lines",
                         line=dict(color="#ff0000", width=3.2),
                         xaxis="x2", yaxis="y2", hoverinfo="skip", showlegend=False))
fig.add_trace(go.Scatter(x=res_wl, y=res_val, mode="markers",
                         marker=dict(symbol="cross-thin", size=7,
                                     line=dict(color="black", width=2.8)),
                         xaxis="x", yaxis="y", hoverinfo="skip", showlegend=False))
# carriers for the edge tick labels of the upper panel
fig.add_trace(go.Scatter(x=[None], y=[None], xaxis="x2", yaxis="y3", showlegend=False))
fig.add_trace(go.Scatter(x=[None], y=[None], xaxis="x2", yaxis="y4", showlegend=False))

XR = [8450.5, 8746.5]
SPLIT = 0.5005

def xax(**kw):
    d = dict(range=XR, showline=True, linecolor="black", linewidth=AX_W,
             mirror="allticks", ticks="inside", ticklen=10, tickwidth=AX_W,
             tickcolor="black", tickmode="array", tickvals=x_ticks,
             minor=dict(ticks="inside", ticklen=5, tickwidth=AX_W, tickcolor="black",
                        tickmode="linear", tick0=8450, dtick=10, showgrid=False),
             showgrid=False, zeroline=False, tickfont=tickfont)
    d.update(kw)
    return d

def yax(**kw):
    d = dict(showline=True, linecolor="black", linewidth=AX_W, mirror="allticks",
             ticks="inside", ticklen=31, tickwidth=AX_W, tickcolor="black",
             showgrid=False, zeroline=False, tickfont=tickfont)
    d.update(kw)
    return d

def label_axis(label):
    text, pos = label
    return dict(overlaying="y2", anchor="x2", side="left", range=[0, 1.2],
                showline=False, ticks="", showgrid=False, zeroline=False,
                tickmode="array", tickvals=[pos], ticktext=[text],
                tickfont=tickfont, ticklabelstandoff=10)

fig.update_layout(
    width=1806, height=1079,
    margin=dict(l=222, r=11, t=11, b=121, autoexpand=False),
    paper_bgcolor=BG, plot_bgcolor=BG,
    font=dict(family=FONT, color="black"),
    showlegend=False,
    xaxis=xax(anchor="y", domain=[0, 1], ticklabelstandoff=11,
              title=dict(text="\u03bb\u2002(\u00c5)", font=titlefont, standoff=26)),
    xaxis2=xax(anchor="y2", domain=[0, 1], matches="x", showticklabels=False),
    yaxis=yax(anchor="x", domain=[0, SPLIT], range=[-0.0651, 0.0651],
              tickmode="array", tickvals=resid_ticks, tickformat=".2f",
              ticklabelstandoff=5,
              minor=dict(ticks="inside", ticklen=15, tickwidth=AX_W, tickcolor="black",
                         tickmode="linear", tick0=0, dtick=0.005, showgrid=False),
              title=dict(text="Synth.\u2002\u2212\u2002Obs.", font=titlefont, standoff=24)),
    yaxis2=yax(anchor="x2", domain=[SPLIT, 1], range=[0, 1.2],
               tickmode="array", tickvals=flux_ticks, tickformat=".1f",
               ticklabelstandoff=10,
               minor=dict(ticks="inside", ticklen=15, tickwidth=AX_W, tickcolor="black",
                          tickmode="linear", tick0=0, dtick=0.05, showgrid=False),
               title=dict(text="Normalised\u2002flux", font=titlefont, standoff=16)),
    yaxis3=label_axis(flux_top_label),
    yaxis4=label_axis(flux_bottom_label),
)

# dashed zero reference line in the residual panel
fig.add_shape(type="line", xref="x domain", yref="y", x0=0, x1=1, y0=0, y1=0,
              line=dict(color="black", width=2.5, dash="12px,10px"), layer="below")

# green tick mark fragment at the bottom-left corner of the slide
fig.add_shape(type="path", xref="paper", yref="paper",
              path="M -0.140 -0.129 Q -0.133 -0.116 -0.120 -0.106",
              line=dict(color="#1a8c1a", width=4))

sp = "\u2002\u200a"
fig.add_annotation(
    xref="x2", yref="y2", x=8452.6, y=0.117, xanchor="left", yanchor="middle",
    text=f"T<sub>eff</sub>={sp}4723{sp}K;{sp}logg={sp}3.25{sp}dex;{sp}[M/H]={sp}0.22{sp}dex",
    showarrow=False, font=dict(family=FONT, size=40, color="black"))
fig.add_annotation(xref="x2", yref="y2", x=8668.9, y=0.420, xanchor="left",
                   yanchor="middle", text="Synthetic", showarrow=False,
                   font=dict(family="Lato", size=43, color="#ff0000"))
fig.add_annotation(xref="x2", yref="y2", x=8668.9, y=0.275, xanchor="left",
                   yanchor="middle", text="Observed", showarrow=False,
                   font=dict(family="Lato", size=43, color="black"))

fig.write_html("out.html")
